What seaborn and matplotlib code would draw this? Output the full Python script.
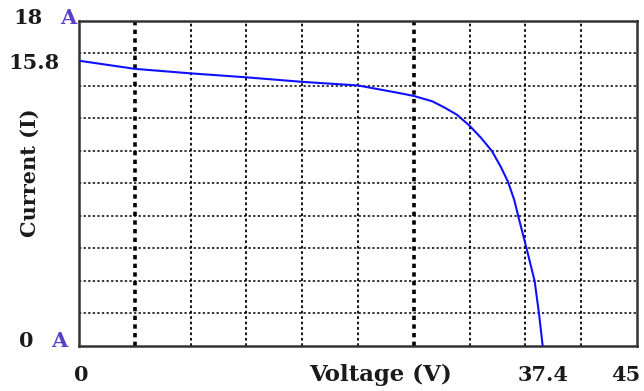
import numpy as np
import pandas as pd
import matplotlib
matplotlib.use('Agg')
import matplotlib.pyplot as plt
import matplotlib.transforms as mtransforms
import seaborn as sns

# curva I-V
voltaje = [0, 4.5, 9, 13.5, 18, 22.5, 25.9, 27.0, 28.5, 29.5, 30.5, 31.5, 32.4,
           33.3, 34.0, 34.6, 35.1, 35.5, 36.1, 36.75, 37.1, 37.4]
corriente = [15.8, 15.35, 15.1, 14.88, 14.63, 14.43, 14.0, 13.85, 13.55, 13.2, 12.8, 12.2, 11.55,
             10.8, 9.95, 9.1, 8.1, 7.0, 5.4, 3.6, 1.8, 0]

x_etiquetas = ['0', '37.4', '45']
x_valores = [0, 37.4, 45]
y_etiquetas = ['0', '15.8', '18']

df = pd.DataFrame({'V': voltaje, 'I': corriente})

sns.set_theme(style='white')
plt.rcParams['font.family'] = ['DejaVu Serif']

fig = plt.figure(figsize=(6.44, 3.91), dpi=100)
ax = fig.add_axes([0.1227, 0.1151, 0.8663, 0.8312])

# rejilla punteada
for v in np.arange(4.5, 45, 4.5):
    grueso = v in (4.5, 27.0)
    ax.axvline(v, color='black', linestyle=(0, (1.2, 1.2)) if grueso else (0, (1.5, 1.5)),
               linewidth=2.6 if grueso else 1.3, zorder=1)
for h in np.arange(1.8, 18, 1.8):
    ax.axhline(h, color='black', linestyle=(0, (1.5, 1.5)), linewidth=1.1, zorder=1)

sns.lineplot(data=df, x='V', y='I', sort=False, color='#1010ff', linewidth=1.5, ax=ax, zorder=3)

ax.set_xlim(0, 45)
ax.set_ylim(0, 18)
ax.set_xticks([])
ax.set_yticks([])
ax.set_xlabel('')
ax.set_ylabel('')
for s in ax.spines.values():
    s.set_color('#333333')
    s.set_linewidth(1.8)

txt = dict(fontsize=15, fontweight='bold', color='#1a1a1a')
azul = '#5a40c8'

# etiquetas eje y
ty = mtransforms.blended_transform_factory(ax.transAxes, ax.transData)
ax.text(-0.0645, 18.15, y_etiquetas[2], transform=ty, ha='right', va='center', **txt)
ax.text(-0.004, 18.15, 'A', transform=ty, ha='right', va='center', fontsize=15, fontweight='bold', color=azul)
ax.text(-0.034, 15.7, y_etiquetas[1], transform=ty, ha='right', va='center', **txt)
ax.text(-0.082, 0.25, y_etiquetas[0], transform=ty, ha='right', va='center', **txt)
ax.text(-0.02, 0.25, 'A', transform=ty, ha='right', va='center', fontsize=15, fontweight='bold', color=azul)

# etiquetas eje x
tx = mtransforms.blended_transform_factory(ax.transData, ax.transAxes)
ax.text(x_valores[0] + 0.15, -0.089, x_etiquetas[0], transform=tx, ha='center', va='center', **txt)
ax.text(x_valores[1], -0.089, x_etiquetas[1], transform=tx, ha='center', va='center', **txt)
ax.text(x_valores[2] + 0.25, -0.089, x_etiquetas[2], transform=tx, ha='right', va='center', **txt)
ax.text(24.3, -0.089, 'Voltage (V)', transform=tx, ha='center', va='center', fontsize=16.5,
        fontweight='bold', color='#1a1a1a')

ax.text(-0.088, 0.532, 'Current (I)', transform=ax.transAxes, rotation=90,
        ha='center', va='center', **txt)

fig.savefig('out.png', dpi=100)
plt.close(fig)
